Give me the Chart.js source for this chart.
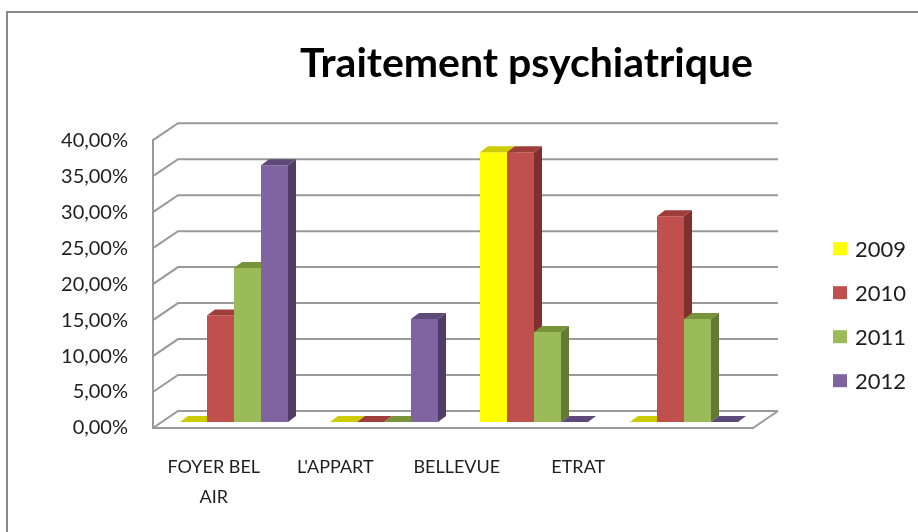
<!DOCTYPE html>
<html>
<head>
<meta charset="utf-8">
<title>Traitement psychiatrique</title>
<script src="https://cdn.jsdelivr.net/npm/chart.js@4.4.1/dist/chart.umd.min.js"></script>
<style>
    body { margin: 0; background: #fff; }
    canvas { display: block; }
</style>
</head>
<body>
<canvas id="psyChart" width="918" height="532"></canvas>
<script>
// data
const categories = [["FOYER BEL", "AIR"], "L'APPART", "BELLEVUE", "ETRAT"];
const years = ["2009", "2010", "2011", "2012"];
const values2009 = [0, 0, 0.375, 0];
const values2010 = [0.148, 0, 0.375, 0.286];
const values2011 = [0.214, 0, 0.125, 0.143];
const values2012 = [0.357, 0.143, 0, 0];
const yTickLabels = ["0,00%", "5,00%", "10,00%", "15,00%", "20,00%", "25,00%", "30,00%", "35,00%", "40,00%"];

// excel-ish colours: front, top, side
const frontColors = ["#FFFF00", "#C0504D", "#9BBB59", "#8064A2"];
const topColors = ["#CCCC00", "#9E3D3A", "#77933C", "#5E4A7A"];
const sideColors = ["#B3B300", "#7D302E", "#637A32", "#4F3D67"];

const wallDepth = { x: 25, y: -17 };
const barShift = { x: 6, y: -6 };
const barDepth = { x: 8, y: -6 };
const lineGray = "#999999";
const textColor = "#1E1E1E";

function poly(c, pts, color) {
    c.fillStyle = color;
    c.beginPath();
    c.moveTo(pts[0][0], pts[0][1]);
    pts.slice(1).forEach(p => c.lineTo(p[0], p[1]));
    c.closePath();
    c.fill();
}

const excel3d = {
    id: "excel3d",
    beforeDraw(chart) {
        const c = chart.ctx;
        c.save();
        c.fillStyle = "#fff";
        c.fillRect(0, 0, chart.width, chart.height);
        c.strokeStyle = "#888";
        c.lineWidth = 2;
        c.strokeRect(7, 12, chart.width + 20, chart.height + 20);
        c.restore();
    },
    beforeDatasetsDraw(chart) {
        const c = chart.ctx;
        const { left, right, bottom } = chart.chartArea;
        const ys = chart.scales.y;

        // back wall + left wall grid, floor edge
        c.save();
        c.strokeStyle = lineGray;
        c.lineWidth = 2;
        c.beginPath();
        ys.ticks.forEach(t => {
            const py = ys.getPixelForValue(t.value);
            c.moveTo(left, py);
            c.lineTo(left + wallDepth.x, py + wallDepth.y);
            c.lineTo(right + wallDepth.x, py + wallDepth.y);
        });
        c.moveTo(right, bottom);
        c.lineTo(right + wallDepth.x, bottom + wallDepth.y);
        c.stroke();

        // bars, left to right so each front hides the side of the one before
        c.translate(barShift.x, barShift.y);
        const metas = chart.getSortedVisibleDatasetMetas().slice().sort((a, b) => a.index - b.index);
        categories.forEach((_, i) => {
            metas.forEach(meta => {
                const bar = meta.data[i];
                const { x, y, base, width } = bar.getProps(["x", "y", "base", "width"], true);
                const x0 = x - width / 2, x1 = x + width / 2;
                bar.draw(c);
                poly(c, [[x0, y], [x1, y], [x1 + barDepth.x, y + barDepth.y], [x0 + barDepth.x, y + barDepth.y]], topColors[meta.index]);
                poly(c, [[x1, y], [x1 + barDepth.x, y + barDepth.y], [x1 + barDepth.x, base + barDepth.y], [x1, base]], sideColors[meta.index]);
            });
        });
        c.restore();
        return false;
    },
    afterDraw(chart) {
        const c = chart.ctx;
        const area = chart.chartArea;
        const xs = chart.scales.x;
        c.save();

        // category labels (excel squeezes them towards the left)
        c.fillStyle = textColor;
        c.font = "18px Lato";
        c.textAlign = "center";
        c.textBaseline = "alphabetic";
        categories.forEach((label, i) => {
            const px = area.left + (xs.getPixelForValue(i) - area.left) * 0.81;
            [].concat(label).forEach((line, j) => c.fillText(line, px, area.bottom + 45 + j * 30));
        });

        // legend
        c.font = "22px Lato";
        c.textAlign = "left";
        c.textBaseline = "middle";
        chart.data.datasets.forEach((ds, i) => {
            const lx = area.right + 80;
            const cy = area.top + 109 + i * 44;
            c.fillStyle = frontColors[i];
            c.fillRect(lx, cy - 7, 14, 13);
            c.fillStyle = textColor;
            c.fillText(ds.label, lx + 22, cy + 1);
        });
        c.restore();
    }
};

const seriesValues = [values2009, values2010, values2011, values2012];

const ctx = document.getElementById("psyChart").getContext("2d");
const psyChart = new Chart(ctx, {
    type: "bar",
    data: {
        labels: categories,
        datasets: years.map((yr, i) => ({
            label: yr,
            data: seriesValues[i],
            backgroundColor: frontColors[i],
            borderWidth: 0,
            categoryPercentage: 0.72,
            barPercentage: 1
        }))
    },
    options: {
        responsive: false,
        animation: false,
        devicePixelRatio: 1,
        layout: { padding: { left: 0, right: 165, top: 0, bottom: 0 } },
        plugins: {
            legend: { display: false },
            tooltip: { enabled: false },
            title: {
                display: true,
                align: "end",
                text: "Traitement psychiatrique",
                color: "#000",
                font: { family: "Lato", size: 41, weight: "bold" },
                padding: { top: 39, bottom: 52 }
            }
        },
        scales: {
            x: {
                grid: { display: false, drawTicks: false },
                ticks: { display: false },
                border: { display: true, color: lineGray, width: 2 },
                afterFit: s => { s.height = 104; }
            },
            y: {
                min: 0,
                max: 0.4,
                grid: { display: false, drawTicks: false },
                border: { display: true, color: lineGray, width: 2 },
                ticks: {
                    stepSize: 0.05,
                    padding: 25,
                    color: textColor,
                    font: { family: "Lato", size: 20 },
                    callback: (v, idx) => yTickLabels[idx]
                },
                afterFit: s => { s.width = 153; }
            }
        }
    },
    plugins: [excel3d]
});
</script>
</body>
</html>
